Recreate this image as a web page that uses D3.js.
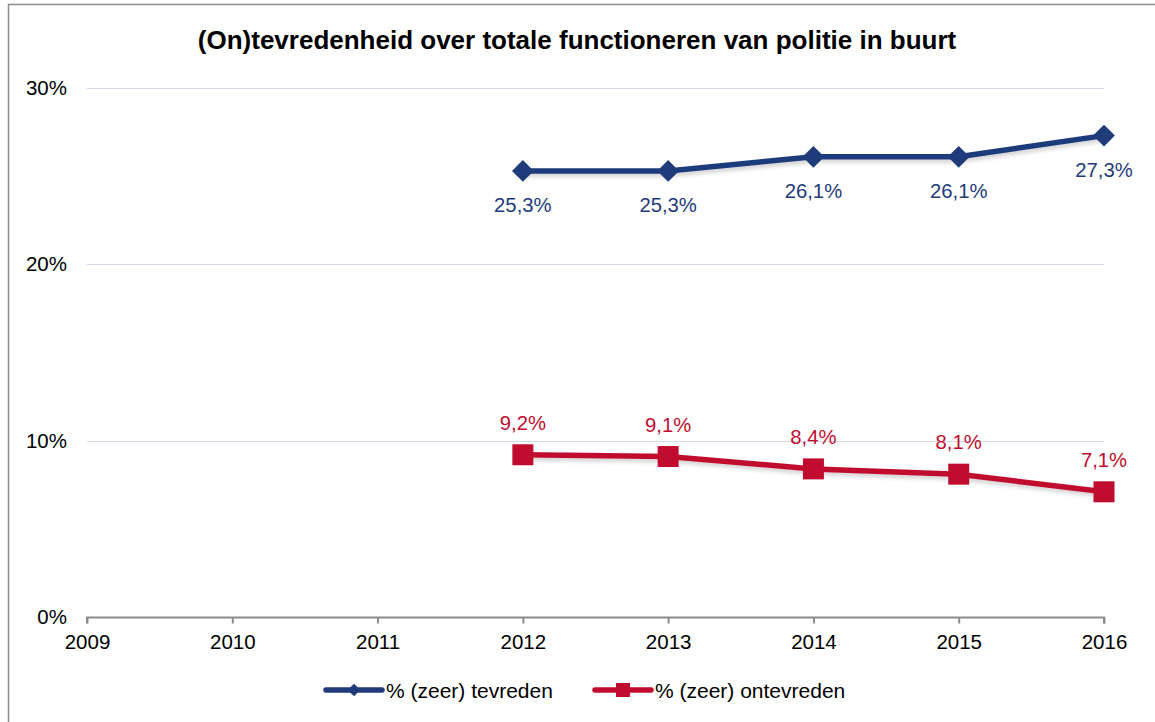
<!DOCTYPE html>
<html>
<head>
<meta charset="utf-8">
<script src="https://cdn.jsdelivr.net/npm/d3@7"></script>
<style>
  body { margin: 0; background: #fff; }
  svg { font-family: "Liberation Sans", Arial, sans-serif; }
</style>
</head>
<body>
<script>
// Chart settings
const width = 1155;
const height = 722;
const margin = { top: 88, right: 51, bottom: 105, left: 87 };
const blue = '#1f3b7a';
const red = '#c00d2f';
const font = '"Liberation Sans", Arial, sans-serif';

// Data
const years = [2009, 2010, 2011, 2012, 2013, 2014, 2015, 2016];
const yTicks = [0, 10, 20, 30];
const tevreden = [
  { year: 2012, value: 25.3 },
  { year: 2013, value: 25.3 },
  { year: 2014, value: 26.1 },
  { year: 2015, value: 26.1 },
  { year: 2016, value: 27.3 }
];
const ontevreden = [
  { year: 2012, value: 9.2 },
  { year: 2013, value: 9.1 },
  { year: 2014, value: 8.4 },
  { year: 2015, value: 8.1 },
  { year: 2016, value: 7.1 }
];
const seriesNames = ['% (zeer) tevreden', '% (zeer) ontevreden'];

const svg = d3.select('body')
              .append('svg')
              .attr('width', width)
              .attr('height', height);

// soft shadow under the lines
const defs = svg.append('defs');
const f = defs.append('filter').attr('id', 'shadow')
              .attr('x', '-5%').attr('y', '-50%').attr('width', '110%').attr('height', '200%');
f.append('feDropShadow').attr('dx', 1).attr('dy', 3).attr('stdDeviation', 2)
 .attr('flood-color', '#000').attr('flood-opacity', 0.18);

// outer frame (runs off the right and bottom edge)
svg.append('rect')
   .attr('x', 8.5).attr('y', 4.5)
   .attr('width', 1160).attr('height', 740)
   .attr('fill', 'none')
   .attr('stroke', '#8c8c8c')
   .attr('stroke-width', 1.5);

const x = d3.scaleLinear()
            .domain([2009, 2016])
            .range([margin.left, width - margin.right]);

const y = d3.scaleLinear()
            .domain([0, 30])
            .range([height - margin.bottom, margin.top]);

// title
svg.append('text')
   .attr('x', 577).attr('y', 49)
   .attr('text-anchor', 'middle')
   .attr('font-size', 26)
   .attr('font-weight', 'bold')
   .text('(On)tevredenheid over totale functioneren van politie in buurt');

// gridlines
svg.append('g')
   .selectAll('line')
   .data(yTicks.filter(d => d > 0))
   .enter()
   .append('line')
   .attr('x1', x(2009)).attr('x2', x(2016))
   .attr('y1', d => Math.round(y(d)) + 0.5)
   .attr('y2', d => Math.round(y(d)) + 0.5)
   .attr('stroke', '#d5d8e8')
   .attr('stroke-width', 1);

// y axis labels
svg.append('g')
   .attr('transform', `translate(${margin.left - 20}, 0)`)
   .call(d3.axisLeft(y).tickValues(yTicks).tickSize(0).tickPadding(0).tickFormat(d => d + '%'))
   .call(g => g.select('.domain').remove())
   .call(g => g.selectAll('text')
               .attr('font-size', 20.5)
               .attr('fill', '#000')
               .attr('font-family', font));

// x axis
svg.append('g')
   .attr('transform', `translate(0, ${Math.round(y(0)) + 0.5})`)
   .call(d3.axisBottom(x).tickValues(years).tickSize(6).tickPadding(11).tickFormat(d3.format('d')))
   .call(g => g.select('.domain').attr('stroke', '#8c8c8c').attr('stroke-width', 2).attr('d', `M${x(2009)},6V0H${x(2016)}V6`))
   .call(g => g.selectAll('.tick line').attr('stroke', '#8c8c8c').attr('stroke-width', 2))
   .call(g => g.selectAll('text')
               .attr('font-size', 20.5)
               .attr('fill', '#000')
               .attr('font-family', font));

const line = d3.line().x(d => x(d.year)).y(d => y(d.value));
const fmt = v => d3.format('.1f')(v).replace('.', ',') + '%';

// blue series
svg.append('path')
   .datum(tevreden)
   .attr('d', line)
   .attr('fill', 'none')
   .attr('stroke', blue)
   .attr('stroke-width', 5.5)
   .attr('filter', 'url(#shadow)');

svg.append('g')
   .selectAll('path')
   .data(tevreden)
   .enter()
   .append('path')
   .attr('transform', d => `translate(${x(d.year)}, ${y(d.value)}) rotate(45)`)
   .attr('d', 'M-7.7,-7.7H7.7V7.7H-7.7Z')
   .attr('fill', blue);

svg.append('g')
   .selectAll('text')
   .data(tevreden)
   .enter()
   .append('text')
   .attr('x', d => x(d.year))
   .attr('y', d => y(d.value) + 41)
   .attr('text-anchor', 'middle')
   .attr('font-size', 20.3)
   .attr('fill', blue)
   .text(d => fmt(d.value));

// red series
svg.append('path')
   .datum(ontevreden)
   .attr('d', line)
   .attr('fill', 'none')
   .attr('stroke', red)
   .attr('stroke-width', 5.5)
   .attr('filter', 'url(#shadow)');

svg.append('g')
   .selectAll('rect')
   .data(ontevreden)
   .enter()
   .append('rect')
   .attr('x', d => x(d.year) - 10.5)
   .attr('y', d => y(d.value) - 10.5)
   .attr('width', 21).attr('height', 21)
   .attr('fill', red);

svg.append('g')
   .selectAll('text')
   .data(ontevreden)
   .enter()
   .append('text')
   .attr('x', d => x(d.year))
   .attr('y', d => y(d.value) - 25)
   .attr('text-anchor', 'middle')
   .attr('font-size', 20.3)
   .attr('fill', red)
   .text(d => fmt(d.value));

// legend
const legend = svg.append('g').attr('transform', 'translate(0, 690)');
const items = [
  { name: seriesNames[0], color: blue, x0: 326, marker: 'diamond' },
  { name: seriesNames[1], color: red, x0: 595, marker: 'square' }
];
items.forEach(it => {
  legend.append('line')
        .attr('x1', it.x0).attr('x2', it.x0 + 56)
        .attr('stroke', it.color).attr('stroke-width', 5.5)
        .attr('stroke-linecap', 'round');
  if (it.marker === 'diamond') {
    legend.append('path')
          .attr('transform', `translate(${it.x0 + 28}, 0) rotate(45)`)
          .attr('d', 'M-4.5,-4.5H4.5V4.5H-4.5Z')
          .attr('fill', it.color);
  } else {
    legend.append('rect')
          .attr('x', it.x0 + 21).attr('y', -7)
          .attr('width', 14).attr('height', 14)
          .attr('fill', it.color);
  }
  legend.append('text')
        .attr('x', it.x0 + 60).attr('y', 7.5)
        .attr('font-size', 21)
        .attr('fill', '#000')
        .text(it.name);
});
</script>
</body>
</html>
